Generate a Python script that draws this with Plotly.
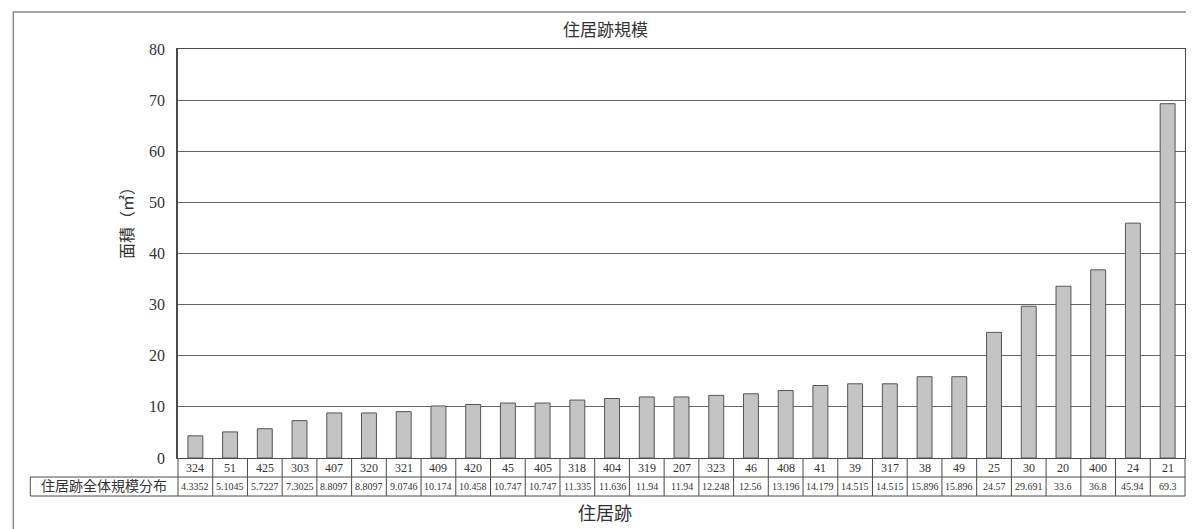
import plotly.graph_objects as go

# 住居跡 numbers and areas (m2), sorted by size
house_ids = ["324", "51", "425", "303", "407", "320", "321", "409", "420", "45",
             "405", "318", "404", "319", "207", "323", "46", "408", "41", "39",
             "317", "38", "49", "25", "30", "20", "400", "24", "21"]
areas = [4.3352, 5.1045, 5.7227, 7.3025, 8.8097, 8.8097, 9.0746, 10.174, 10.458, 10.747,
         10.747, 11.335, 11.636, 11.94, 11.94, 12.248, 12.56, 13.196, 14.179, 14.515,
         14.515, 15.896, 15.896, 24.57, 29.691, 33.6, 36.8, 45.94, 69.3]
row_label = "住居跡全体規模分布"
y_ticks = [0, 10, 20, 30, 40, 50, 60, 70, 80]

SERIF = "Liberation Serif, Noto Sans CJK JP"
TXT = "#333333"
LINE = "#4a4a4a"

# page geometry (px); the page body adds an 8px margin around the figure
OFF = 8
W, H = 1194 - OFF, 529 - OFF
L, R, T, B = 178, 1187, 49, 458
pw, ph = R - L, B - T


def px_x(x):
    return (x - L) / pw


def px_y(y):
    return (B - y) / ph


fig = go.Figure()
fig.add_trace(go.Bar(
    x=house_ids,
    y=areas,
    marker=dict(color="#c4c4c4", line=dict(color="#555555", width=1)),
    showlegend=False,
))

shapes = []
annotations = []

# outer frame
shapes.append(dict(type="path", xref="paper", yref="paper",
                   path=f"M {px_x(13)},{px_y(540)} L {px_x(13)},{px_y(12)} L {px_x(1200)},{px_y(12)}",
                   line=dict(color="#8a8a8a", width=1.5)))

# data table under the axis
row1_bot, row2_bot = 477, 496
for yb in [row1_bot, row2_bot]:
    shapes.append(dict(type="line", xref="paper", yref="paper",
                       x0=px_x(30), x1=1, y0=px_y(yb), y1=px_y(yb),
                       line=dict(color=LINE, width=1)))
shapes.append(dict(type="line", xref="paper", yref="paper",
                   x0=px_x(30), x1=px_x(30), y0=px_y(row1_bot), y1=px_y(row2_bot),
                   line=dict(color=LINE, width=1)))
for xp in [0, 1]:
    shapes.append(dict(type="line", xref="paper", yref="paper",
                       x0=xp, x1=xp, y0=0, y1=px_y(row2_bot),
                       line=dict(color=LINE, width=1)))
for i in range(1, len(house_ids)):
    shapes.append(dict(type="line", xref="x", yref="paper",
                       x0=i - 0.5, x1=i - 0.5, y0=0, y1=px_y(row2_bot),
                       line=dict(color=LINE, width=1)))

for i, (hid, a) in enumerate(zip(house_ids, areas)):
    annotations.append(dict(x=i, xref="x", y=px_y((B + row1_bot) / 2), yref="paper",
                            text=hid, showarrow=False, xanchor="center", yanchor="middle",
                            font=dict(family=SERIF, size=12, color=TXT)))
    annotations.append(dict(x=i, xref="x", y=px_y((row1_bot + row2_bot) / 2), yref="paper",
                            text=str(a), showarrow=False, xanchor="center", yanchor="middle",
                            font=dict(family=SERIF, size=10, color=TXT)))

annotations.append(dict(x=px_x(104), xref="paper", y=px_y((row1_bot + row2_bot) / 2), yref="paper",
                        text=row_label, showarrow=False, xanchor="center", yanchor="middle",
                        font=dict(family=SERIF, size=14, color=TXT)))

# titles
annotations.append(dict(x=px_x(606), xref="paper", y=px_y(30), yref="paper",
                        text="住居跡規模", showarrow=False, xanchor="center", yanchor="middle",
                        font=dict(family=SERIF, size=17, color=TXT)))
annotations.append(dict(x=px_x(606), xref="paper", y=px_y(514), yref="paper",
                        text="住居跡", showarrow=False, xanchor="center", yanchor="middle",
                        font=dict(family=SERIF, size=18, color=TXT)))
annotations.append(dict(x=px_x(127), xref="paper", y=px_y(219), yref="paper",
                        text="面積（㎡）", showarrow=False, textangle=-90,
                        xanchor="center", yanchor="middle",
                        font=dict(family=SERIF, size=16, color=TXT)))

fig.update_layout(
    width=W, height=H,
    margin=dict(l=L - OFF, r=W - (R - OFF), t=T - OFF, b=H - (B - OFF)),
    paper_bgcolor="white",
    plot_bgcolor="white",
    bargap=0.57,
    shapes=shapes,
    annotations=annotations,
    xaxis=dict(type="category", showticklabels=False, showgrid=False,
               showline=True, linecolor=LINE, linewidth=1, mirror=True,
               range=[-0.5, len(house_ids) - 0.5], zeroline=False),
    yaxis=dict(range=[0, 80], tickvals=y_ticks, showgrid=True, gridcolor="#666666",
               gridwidth=1, showline=True, linecolor=LINE, linewidth=1.5, mirror=True,
               zeroline=False, ticklabelstandoff=8,
               tickfont=dict(family=SERIF, size=16, color=TXT)),
)

fig.write_html("out.html")
